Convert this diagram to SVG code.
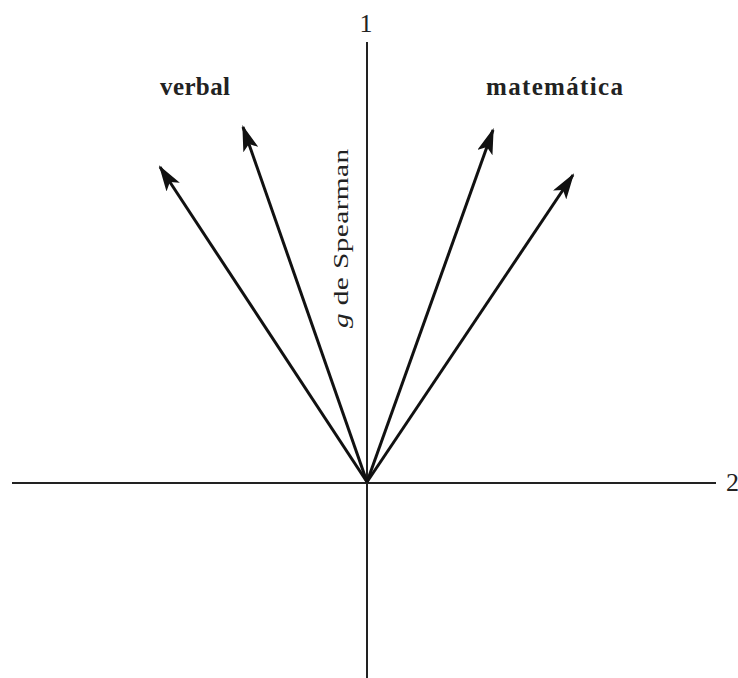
<svg xmlns="http://www.w3.org/2000/svg" width="738" height="678" viewBox="0 0 738 678">
<defs>
<style>
.ax{stroke:#222;stroke-width:2;fill:none}
.vec{stroke:#111;stroke-width:3;fill:none}
.lbl{font-family:"Liberation Serif",serif;fill:#222}
.b{font-weight:bold;font-size:25px}
</style>
<marker id="ah" viewBox="0 0 26 16" refX="24" refY="8" markerWidth="26" markerHeight="16" markerUnits="userSpaceOnUse" orient="auto">
<path d="M0,0 L26,8 L0,16 L6,8 Z" fill="#111"/>
</marker>
</defs>
<rect width="738" height="678" fill="#fff"/>
<g id="axes">
<line class="ax" x1="367" y1="42" x2="367" y2="678"/>
<line class="ax" x1="12" y1="483" x2="716" y2="483"/>
<text class="lbl" x="366" y="32" font-size="26" text-anchor="middle">1</text>
<text class="lbl" x="726" y="491" font-size="26">2</text>
<text class="lbl" font-size="21" transform="translate(348,328) rotate(-90) scale(1.4,1)" textLength="128" lengthAdjust="spacing"><tspan font-style="italic">g</tspan> de Spearman</text>
</g>
<g id="connectors">
<line class="vec" x1="367" y1="482" x2="160" y2="167" marker-end="url(#ah)"/>
<line class="vec" x1="367" y1="482" x2="243" y2="127" marker-end="url(#ah)"/>
<line class="vec" x1="367" y1="482" x2="493" y2="130" marker-end="url(#ah)"/>
<line class="vec" x1="367" y1="482" x2="573" y2="175" marker-end="url(#ah)"/>
</g>
<g id="verbal"><text class="lbl b" x="160" y="95" textLength="70" lengthAdjust="spacing">verbal</text></g>
<g id="matematica"><text class="lbl b" x="486" y="95" textLength="137" lengthAdjust="spacing">matemática</text></g>
</svg>
